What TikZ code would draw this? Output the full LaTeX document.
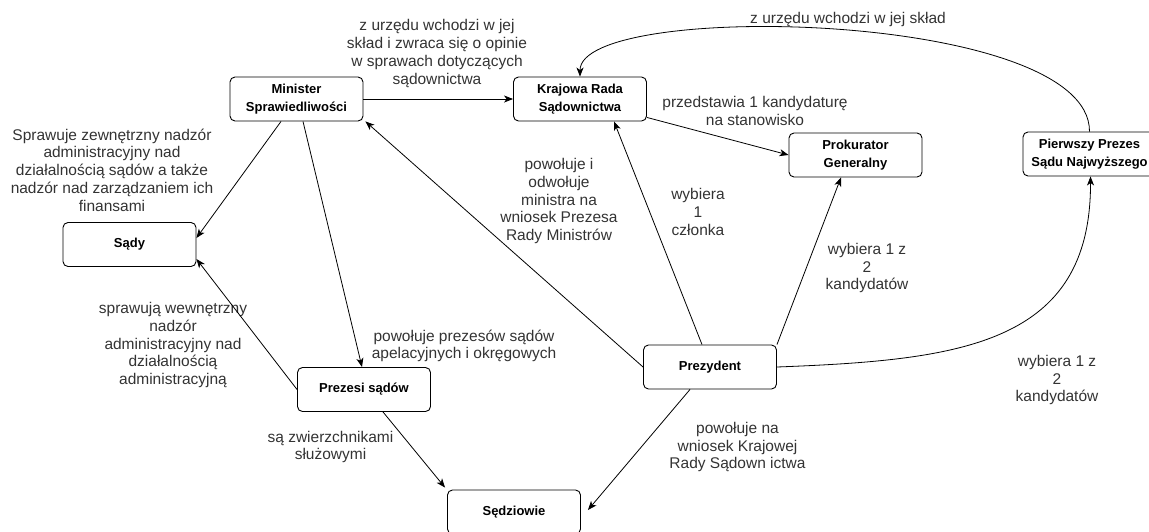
\documentclass[tikz,border=0pt]{standalone}
\usepackage{fontspec}
\setmainfont{Liberation Sans}
\usetikzlibrary{arrows.meta}

\tikzset{
  box/.style={draw, rounded corners=5pt, minimum width=133pt, minimum height=44pt,
    inner sep=0pt, align=center, line width=0.9pt,
    font=\bfseries\fontsize{13}{18}\selectfont},
  lbl/.style={align=center, inner sep=0pt, text=black!80,
    font=\fontsize{15.5}{17.7}\selectfont},
  link/.style={line width=0.8pt, -{Stealth[length=9pt,width=7pt,inset=2.5pt]}}
}

\begin{document}
\begin{tikzpicture}[x=1pt,y=-1pt]
    \useasboundingbox (0,0) rectangle (1149,531);

    \node[box] (min)  at (296.5,99)   {Minister\\Sprawiedliwości};
    \node[box] (sady) at (129.5,244.5) {Sądy};
    \node[box] (krs)  at (580,99)     {Krajowa Rada\\Sądownictwa};
    \node[box] (pg)   at (855.5,155)  {Prokurator\\Generalny};
    \node[box] (pier) at (1089.5,154) {Pierwszy Prezes\\Sądu Najwyższego};
    \node[box] (pre)  at (710,367)    {Prezydent};
    \node[box] (prez) at (364,389.5)  {Prezesi sądów};
    \node[box] (sedz) at (514,512)    {Sędziowie};

    \node[lbl] (l1)  at (112,170)   {Sprawuje zewnętrzny nadzór\\administracyjny nad\\działalnością sądów a także\\nadzór nad zarządzaniem ich\\finansami};
    \node[lbl] (l2)  at (437,53.5)  {z urzędu wchodzi w jej\\skład i zwraca się o opinie\\w sprawach dotyczących\\sądownictwa};
    \node[lbl] (l3)  at (848,19)    {z urzędu wchodzi w jej skład};
    \node[lbl] (l4)  at (755,111)   {przedstawia 1 kandydaturę\\na stanowisko};
    \node[lbl] (l5)  at (559,201)   {powołuje i\\odwołuje\\ministra na\\wniosek Prezesa\\Rady Ministrów};
    \node[lbl] (l6)  at (698,212)   {wybiera\\1\\członka};
    \node[lbl] (l7)  at (867,268)   {wybiera 1 z\\2\\kandydatów};
    \node[lbl] (l8)  at (1057,380)  {wybiera 1 z\\2\\kandydatów};
    \node[lbl] (l9)  at (737.5,447) {powołuje na\\wniosek Krajowej\\Rady Sądown ictwa};
    \node[lbl] (l10) at (173,345)   {sprawują wewnętrzny\\nadzór\\administracyjny nad\\działalnością\\administracyjną};
    \node[lbl] (l11) at (464,346)   {powołuje prezesów sądów\\apelacyjnych i okręgowych};
    \node[lbl] (l12) at (330.5,447) {są zwierzchnikami\\służowymi};

    \draw[link] ([xshift=-15.5pt]min.south) -- ([yshift=6.5pt]sady.east);
    \draw[link] (prez.west) -- ([yshift=-14.5pt]sady.east);
    \draw[link] ([xshift=6.5pt]min.south) -- ([xshift=-2pt]prez.north);
    \draw[link] (min.east) -- (krs.west);
    \draw[link] (pre.west) -- ([xshift=2pt]min.south east);
    \draw[link] ([xshift=-8pt]pre.north) -- ([xshift=34pt]krs.south);
    \draw[link] ([yshift=4pt]krs.south east) -- (pg.west);
    \draw[link] (pre.north east) -- ([xshift=-14.5pt]pg.south);
    \draw[link] (pre.east) .. controls (960,360) and (1091,345) .. ([xshift=1pt]pier.south);
    \draw[link] (pier.north) .. controls (1090,10) and (580,0) .. (krs.north);
    \draw[link] ([xshift=19pt]prez.south) -- ([xshift=-2pt,yshift=2pt]sedz.north west);
    \draw[link] ([xshift=-20pt]pre.south) -- ([xshift=7pt,yshift=2pt]sedz.east);
\end{tikzpicture}
\end{document}
